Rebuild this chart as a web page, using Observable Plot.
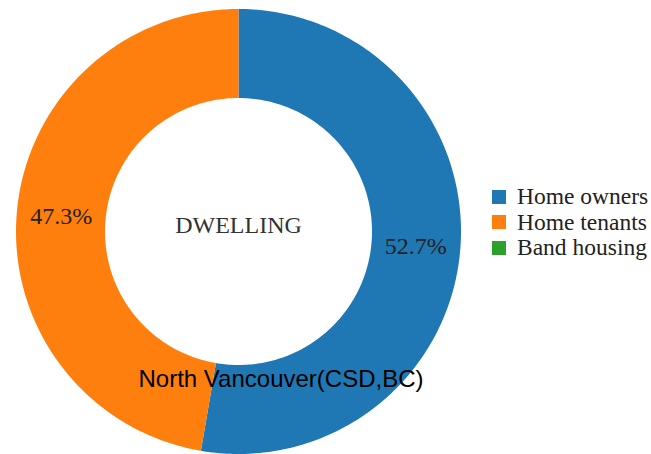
<!DOCTYPE html>
<html>
<head>
<meta charset="utf-8">
<script src="https://cdn.jsdelivr.net/npm/d3@7"></script>
<script src="https://cdn.jsdelivr.net/npm/@observablehq/plot@0.6"></script>
<style>
  html, body { margin: 0; padding: 0; background: #fff; }
  #wrap { position: relative; width: 651px; height: 454px; overflow: hidden; }
  #legend { position: absolute; left: 492px; top: 184px; font-family: "Liberation Serif", "Times New Roman", serif; font-size: 23.5px; color: #222; }
  #legend .row { display: flex; align-items: center; height: 25.5px; white-space: nowrap; }
  #legend .sw { width: 14px; height: 14px; margin-right: 11px; flex: none; }
</style>
</head>
<body>
<div id="wrap"></div>
<script>
const categories = ["Home owners", "Home tenants", "Band housing"];
const values = [52.7, 47.3, 0];
const colors = ["#1f77b4", "#ff7f0e", "#2ca02c"];
const centerLabel = "DWELLING";
const caption = "North Vancouver(CSD,BC)";

const innerRatio = 0.6;
const total = d3.sum(values);

// Build ring polygons in data space (unit circle), angle clockwise from top
const polys = [];
const labels = [];
let acc = 0;
categories.forEach((cat, i) => {
  const a0 = acc / total * 2 * Math.PI;
  acc += values[i];
  const a1 = acc / total * 2 * Math.PI;
  if (values[i] <= 0) return;
  const n = 200;
  for (let k = 0; k <= n; k++) {
    const a = a0 + (a1 - a0) * k / n;
    polys.push({cat, x: Math.sin(a), y: Math.cos(a)});
  }
  for (let k = n; k >= 0; k--) {
    const a = a0 + (a1 - a0) * k / n;
    polys.push({cat, x: innerRatio * Math.sin(a), y: innerRatio * Math.cos(a)});
  }
  const am = (a0 + a1) / 2, rm = (1 + innerRatio) / 2;
  labels.push({cat, x: rm * Math.sin(am), y: rm * Math.cos(am), text: (values[i] / total * 100).toFixed(1) + "%"});
});

const cx = 238, cy = 231, R = 222.5;
const chart = Plot.plot({
  width: 651,
  height: 454,
  margin: 0,
  style: {background: "#fff", overflow: "visible"},
  x: {domain: [-1, 1], range: [cx - R, cx + R], axis: null},
  y: {domain: [-1, 1], range: [cy + R, cy - R], axis: null},
  color: {domain: categories, range: colors},
  marks: [
    Plot.line(polys, {x: "x", y: "y", z: "cat", fill: "cat", stroke: "none", curve: "linear"}),
    Plot.text(labels, {x: "x", y: "y", text: "text", fill: "#222", fontSize: 24, fontFamily: "Liberation Serif, serif"}),
    Plot.text([centerLabel], {x: () => 0, y: () => 0, text: d => d, dy: -6, fill: "#333", fontSize: 24, fontFamily: "Liberation Serif, serif"}),
    Plot.text([caption], {frameAnchor: "top-left", text: d => d, dx: 138, dy: 369, textAnchor: "start", fill: "#000", fontSize: 24, fontFamily: "Liberation Sans, Arial, sans-serif"})
  ]
});

const wrap = document.getElementById("wrap");
wrap.appendChild(chart);
const legend = document.createElement("div");
legend.id = "legend";
categories.forEach((c, i) => {
  const row = document.createElement("div");
  row.className = "row";
  const sw = document.createElement("span");
  sw.className = "sw";
  sw.style.background = colors[i];
  const t = document.createElement("span");
  t.textContent = c;
  row.appendChild(sw);
  row.appendChild(t);
  legend.appendChild(row);
});
wrap.appendChild(legend);
</script>
</body>
</html>
